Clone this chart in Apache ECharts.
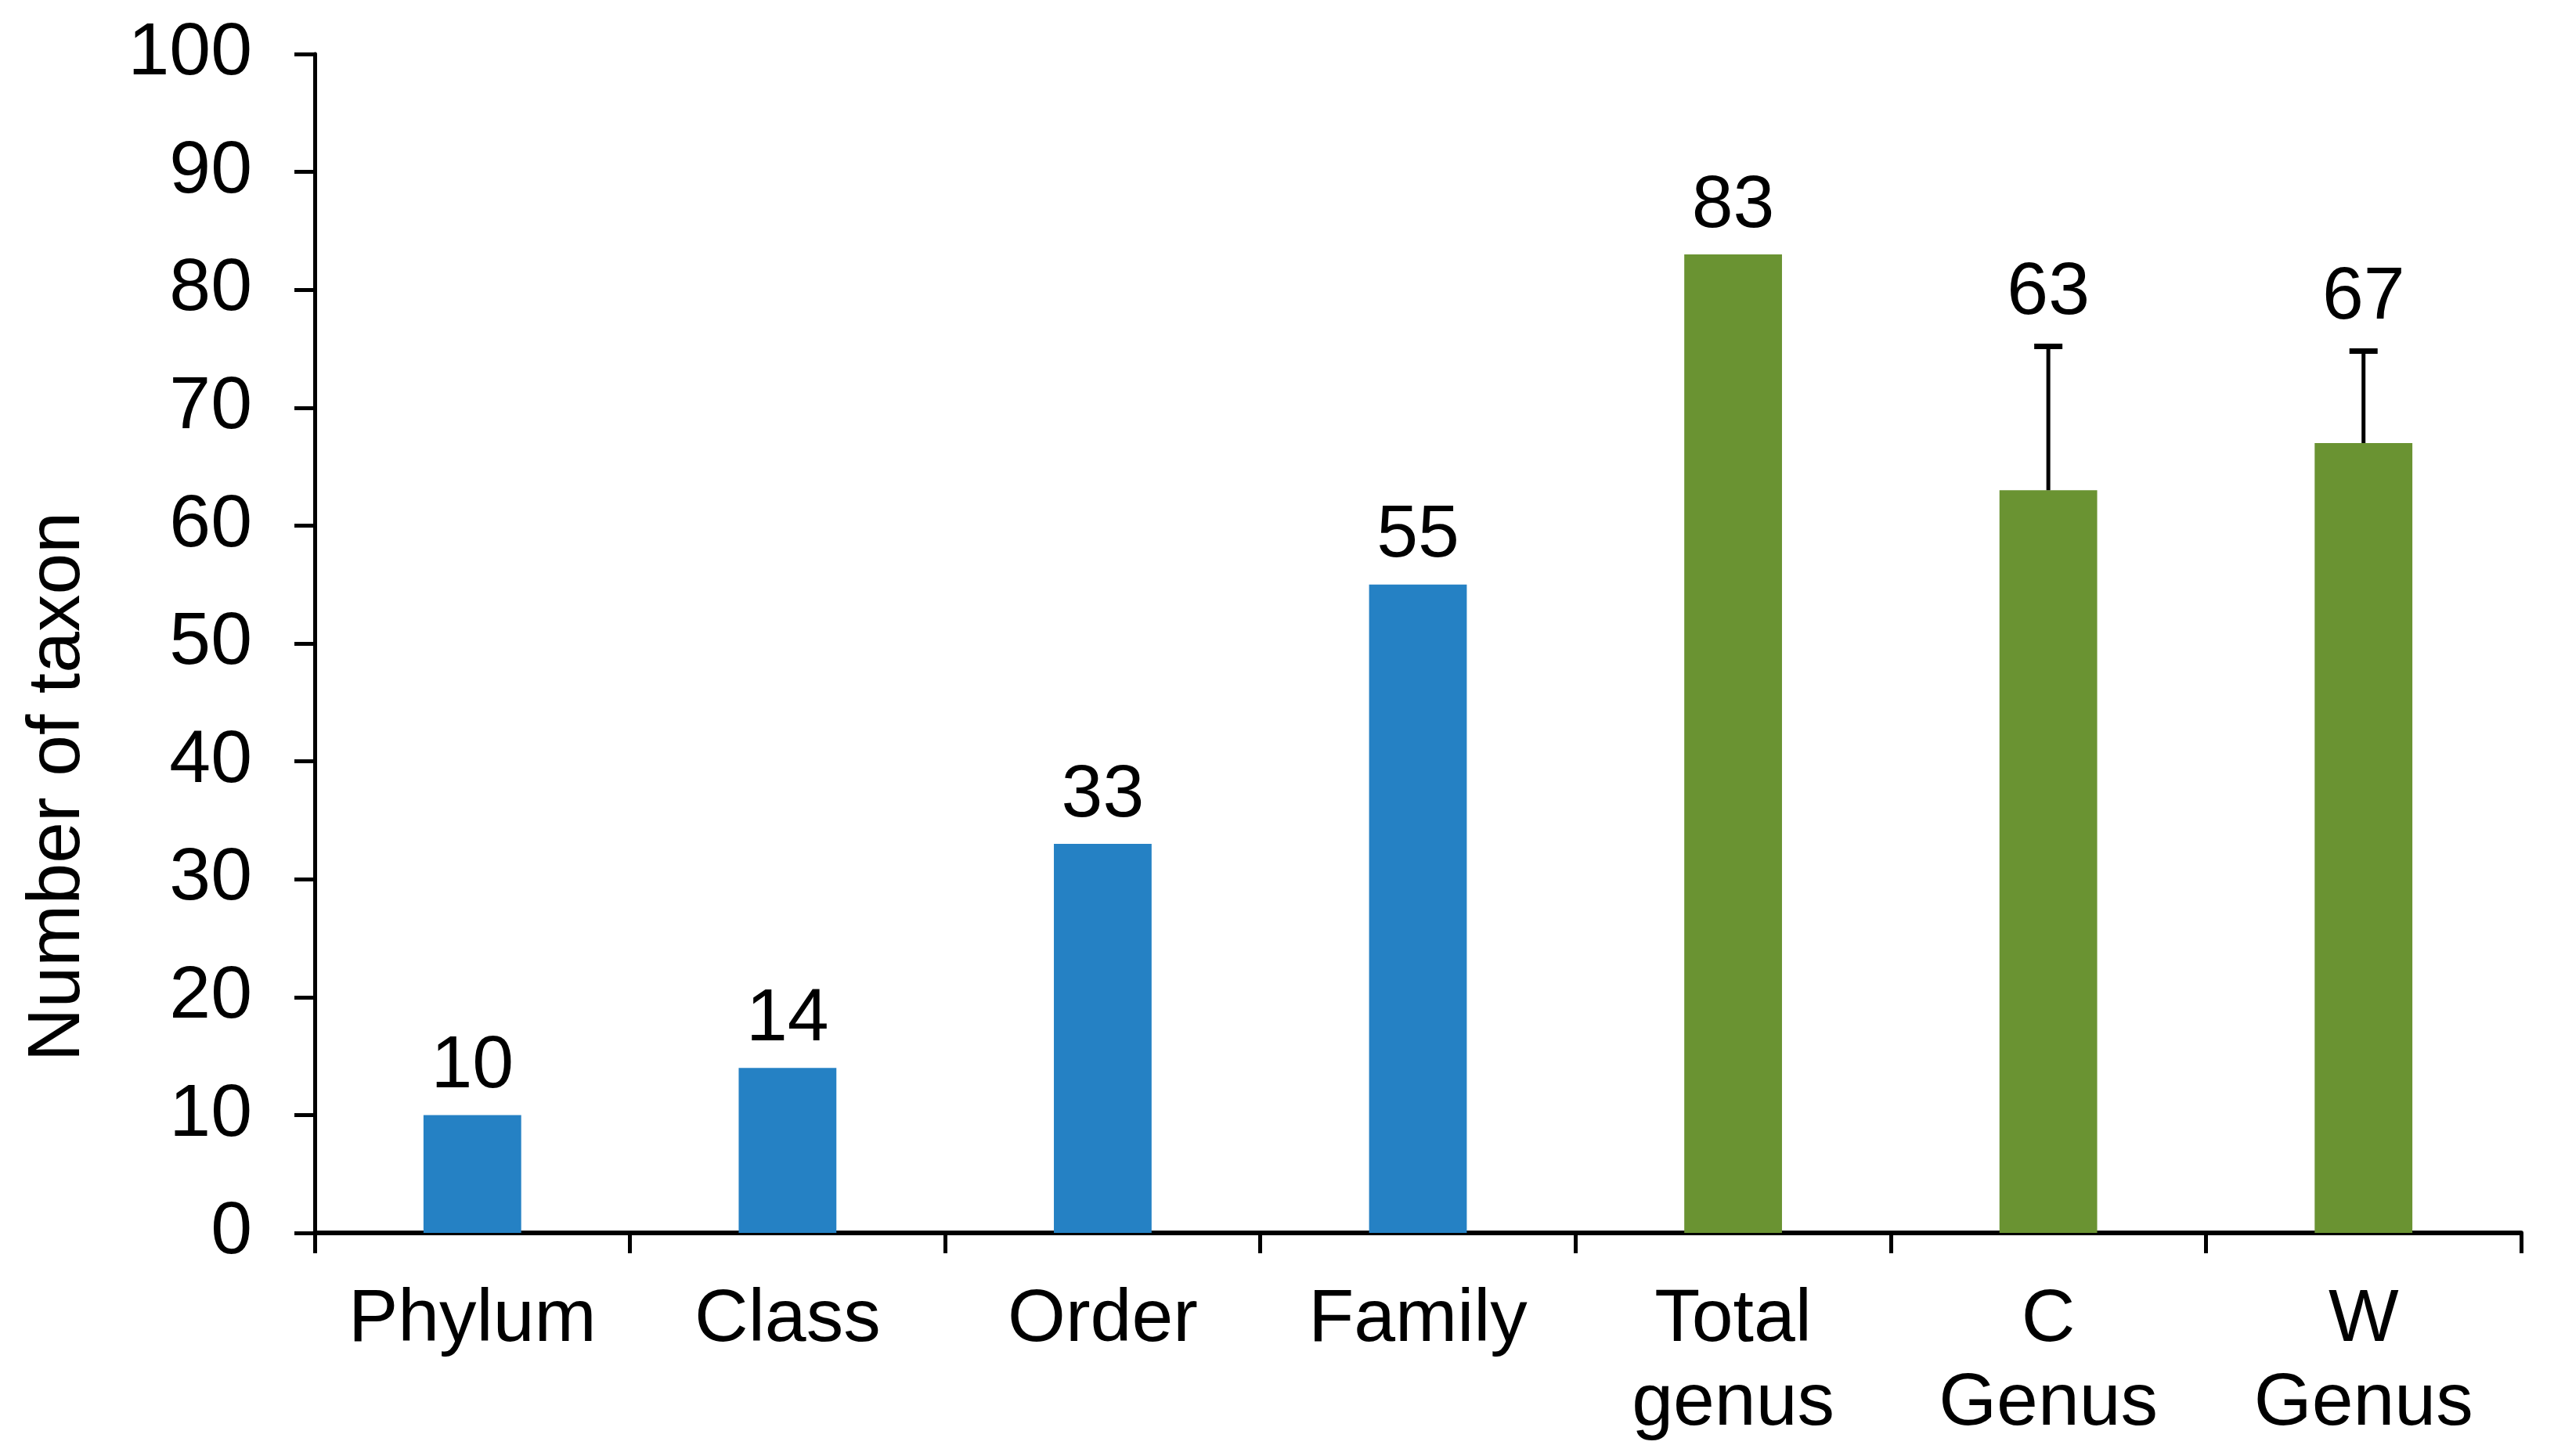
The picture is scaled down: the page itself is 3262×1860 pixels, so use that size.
<!DOCTYPE html>
<html>
<head>
<meta charset="utf-8">
<script src="https://cdn.jsdelivr.net/npm/echarts@6/dist/echarts.min.js"></script>
<style>
html,body{margin:0;padding:0;background:#fff;}
#chart{width:3262px;height:1860px;}
</style>
</head>
<body>
<div id="chart"></div>
<script>
const categories = ['Phylum', 'Class', 'Order', 'Family', 'Total\ngenus', 'C\nGenus', 'W\nGenus'];
const values = [10, 14, 33, 55, 83, 63, 67];
const errors = [0, 0, 0, 0, 0, 12.2, 7.8];
const groups = ['blue', 'blue', 'blue', 'blue', 'green', 'green', 'green'];
const yTicks = [0, 10, 20, 30, 40, 50, 60, 70, 80, 90, 100];

const COLORS = { blue: '#2581c4', green: '#6a9332' };
const FONT = 'Liberation Sans, Arial, sans-serif';
const FS = 95;

const chart = echarts.init(document.getElementById('chart'), null, { renderer: 'canvas' });

const option = {
  animation: false,
  backgroundColor: '#ffffff',
  grid: { left: 402, right: 42, top: 69, bottom: 285, containLabel: false },
  xAxis: {
    type: 'category',
    data: categories,
    boundaryGap: true,
    axisLine: { show: true, lineStyle: { color: '#000', width: 6 } },
    axisTick: { show: true, length: 26, lineStyle: { color: '#000', width: 5 }, alignWithLabel: false },
    axisLabel: { color: '#000', fontFamily: FONT, fontSize: FS, lineHeight: 107, margin: 58, interval: 0 },
    splitLine: { show: false }
  },
  yAxis: {
    type: 'value',
    min: yTicks[0],
    max: yTicks[yTicks.length - 1],
    interval: 10,
    name: 'Number of taxon',
    nameLocation: 'middle',
    nameRotate: 90,
    nameGap: 280,
    nameTextStyle: { color: '#000', fontFamily: FONT, fontSize: FS, padding: [0, 366, 0, 0] },
    axisLine: { show: true, lineStyle: { color: '#000', width: 5 } },
    axisTick: { show: true, length: 26, lineStyle: { color: '#000', width: 5 } },
    axisLabel: { color: '#000', fontFamily: FONT, fontSize: FS, margin: 80 },
    splitLine: { show: false }
  },
  series: [
    {
      type: 'bar',
      barWidth: '31%',
      data: values.map((v, i) => ({ value: v, itemStyle: { color: COLORS[groups[i]] } })),
      z: 2
    },
    {
      type: 'custom',
      data: values.map((v, i) => [i, v, errors[i]]),
      z: 5,
      renderItem: function (params, api) {
        const i = api.value(0);
        const v = api.value(1);
        const e = api.value(2);
        const base = api.coord([i, v]);
        const top = api.coord([i, v + e]);
        const children = [];
        if (e > 0) {
          children.push({
            type: 'line',
            shape: { x1: base[0], y1: base[1], x2: top[0], y2: top[1] },
            style: { stroke: '#000', lineWidth: 5 }
          });
          children.push({
            type: 'line',
            shape: { x1: top[0] - 18, y1: top[1], x2: top[0] + 18, y2: top[1] },
            style: { stroke: '#000', lineWidth: 7 }
          });
        }
        children.push({
          type: 'text',
          x: top[0],
          y: top[1] - (e > 0 ? 20 : 14),
          style: {
            text: String(v),
            fill: '#000',
            font: FS + 'px ' + FONT,
            align: 'center',
            verticalAlign: 'bottom'
          }
        });
        return { type: 'group', children: children };
      }
    }
  ]
};

chart.setOption(option);
</script>
</body>
</html>
